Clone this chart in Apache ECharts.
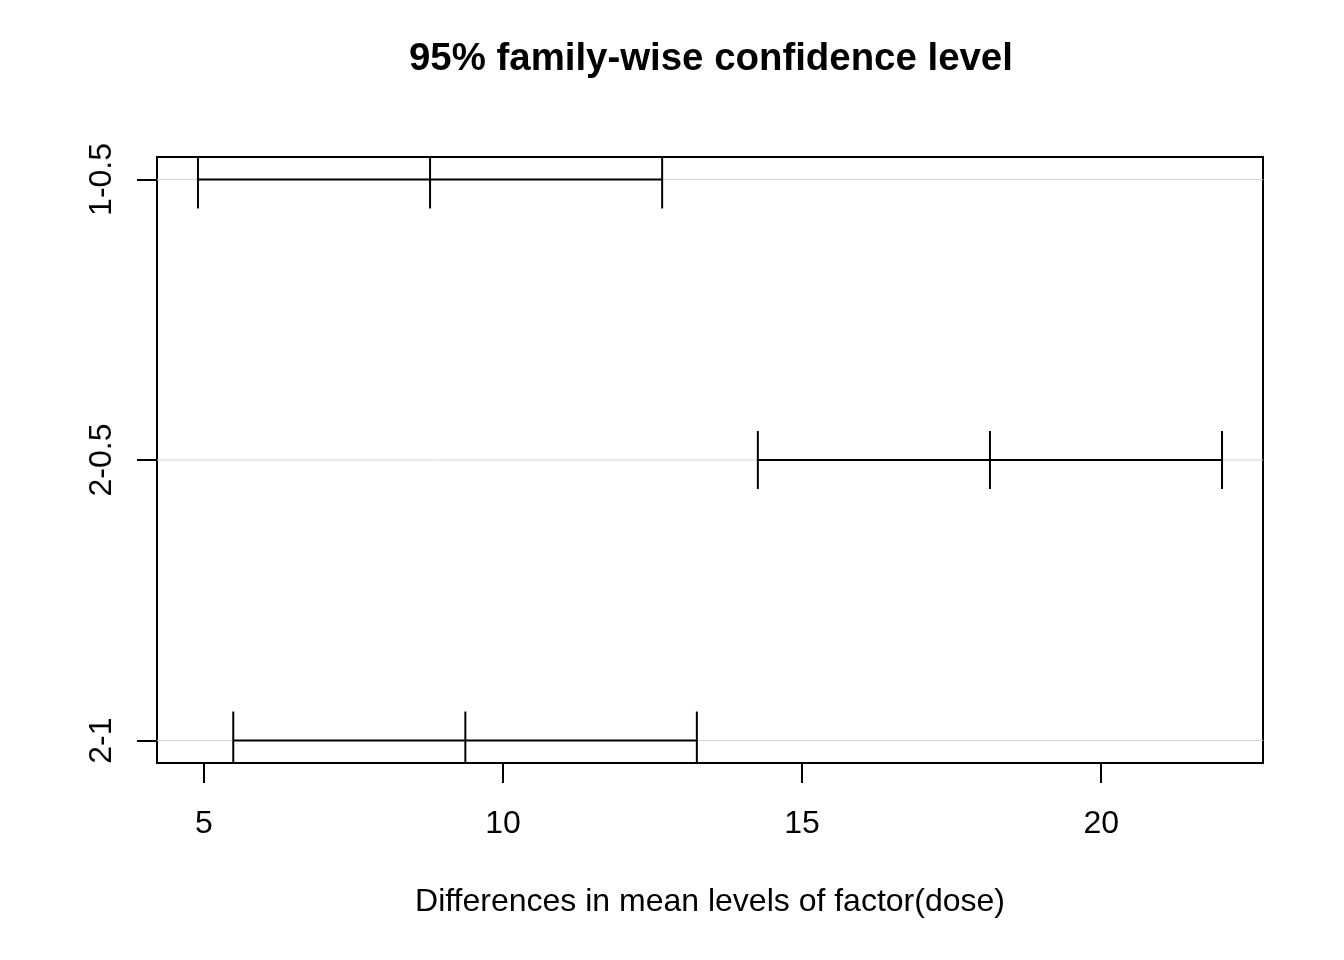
<!DOCTYPE html>
<html>
<head>
<meta charset="utf-8">
<title>95% family-wise confidence level</title>
<script src="https://cdn.jsdelivr.net/npm/echarts@6/dist/echarts.min.js"></script>
<style>
  html, body { margin: 0; padding: 0; background: #fff; }
  #chart { width: 1344px; height: 960px; }
</style>
</head>
<body>
<div id="chart"></div>
<script>
// comparisons, bottom to top (position 1, 2, 3)
var comparisons = ['2-1', '2-0.5', '1-0.5'];
var positions = [1, 2, 3];
var diffs = [9.37, 18.14, 8.78];
var lowers = [5.49, 14.26, 4.90];
var uppers = [13.24, 22.02, 12.66];
var xTicks = [5, 10, 15, 20];

var FONT = "'Liberation Sans', Arial, sans-serif";

// R style axis range: data range plus 4% on each side
var lo = Math.min.apply(null, lowers);
var hi = Math.max.apply(null, uppers);
var xMin = lo - (hi - lo) * 0.04;
var xMax = hi + (hi - lo) * 0.04;
var yMin = 1 - 2 * 0.04;
var yMax = 3 + 2 * 0.04;

var rows = positions.map(function (p, i) {
  return [p, lowers[i], diffs[i], uppers[i]];
});

var chart = echarts.init(document.getElementById('chart'));

chart.setOption({
  animation: false,
  backgroundColor: '#fff',
  title: {
    text: '95% family-wise confidence level',
    left: 409,
    top: 40,
    padding: 0,
    textStyle: { fontFamily: FONT, fontSize: 38.4, fontWeight: 'bold', color: '#000' }
  },
  grid: {
    left: 157, top: 157, width: 1106, height: 606,
    show: true, borderColor: '#000', borderWidth: 2,
    outerBoundsMode: 'none'
  },
  xAxis: {
    type: 'value',
    min: xMin, max: xMax,
    name: 'Differences in mean levels of factor(dose)',
    nameLocation: 'middle',
    nameGap: 123,
    nameTextStyle: { fontFamily: FONT, fontSize: 32, color: '#000' },
    axisLine: { show: false },
    splitLine: { show: false },
    axisTick: { show: true, inside: false, length: 20, customValues: xTicks, lineStyle: { color: '#000', width: 2 } },
    axisLabel: { customValues: xTicks, margin: 45, fontFamily: FONT, fontSize: 32, color: '#000' }
  },
  yAxis: {
    type: 'value',
    min: yMin, max: yMax,
    axisLine: { show: false },
    splitLine: { show: false },
    axisTick: { show: true, inside: false, length: 20, customValues: positions, lineStyle: { color: '#000', width: 2 } },
    axisLabel: {
      customValues: positions,
      rotate: 90,
      margin: 39,
      fontFamily: FONT, fontSize: 32, color: '#000',
      formatter: function (v) {
        var i = positions.indexOf(Math.round(v));
        return i >= 0 ? comparisons[i] : '';
      }
    }
  },
  series: [{
    type: 'custom',
    clip: true,
    data: rows,
    encode: { x: [1, 2, 3], y: 0 },
    renderItem: function (params, api) {
      var y = api.value(0);
      var a = api.coord([api.value(1), y]);
      var m = api.coord([api.value(2), y]);
      var b = api.coord([api.value(3), y]);
      var g0 = api.coord([xMin, y]);
      var g1 = api.coord([xMax, y]);
      var h = 29;
      var blk = { stroke: '#000', lineWidth: 2 };
      return {
        type: 'group',
        children: [
          { type: 'line', shape: { x1: g0[0], y1: g0[1], x2: g1[0], y2: g1[1] }, style: { stroke: '#d3d3d3', lineWidth: 1 } },
          { type: 'line', shape: { x1: a[0], y1: a[1], x2: b[0], y2: b[1] }, style: blk },
          { type: 'line', shape: { x1: a[0], y1: a[1] - h, x2: a[0], y2: a[1] + h }, style: blk },
          { type: 'line', shape: { x1: m[0], y1: m[1] - h, x2: m[0], y2: m[1] + h }, style: blk },
          { type: 'line', shape: { x1: b[0], y1: b[1] - h, x2: b[0], y2: b[1] + h }, style: blk }
        ]
      };
    }
  }]
});
</script>
</body>
</html>
